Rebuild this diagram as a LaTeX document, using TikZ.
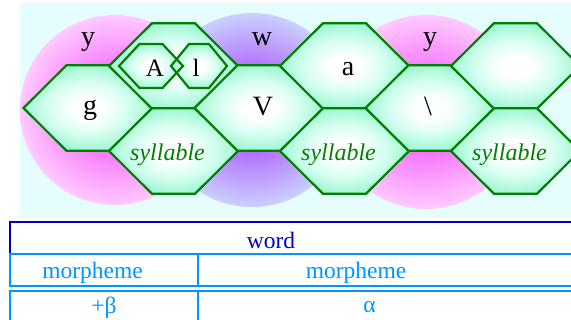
\documentclass[tikz,border=0pt]{standalone}
\usepackage{fontspec}
\setmainfont{Liberation Serif}

\definecolor{hexline}{RGB}{0,128,0}
\definecolor{hexmint}{RGB}{160,245,210}
\definecolor{hexpale}{RGB}{215,255,242}
\definecolor{bgcyan}{RGB}{230,253,253}
\definecolor{blobpink}{RGB}{245,110,250}
\definecolor{blobpinkout}{RGB}{255,202,255}
\definecolor{blobviolet}{RGB}{175,100,252}
\definecolor{blobvioletout}{RGB}{202,208,255}
\definecolor{worddark}{RGB}{0,0,200}
\definecolor{morphblue}{RGB}{0,150,255}

% white core fading out to mint at the rim
\pgfdeclareradialshading{hexglow}{\pgfpoint{0bp}{0bp}}{%
  color(0bp)=(white); color(6bp)=(white); color(15bp)=(hexpale);
  color(25bp)=(hexmint); color(50bp)=(hexmint)}
% blobs keep their strong colour further out
\pgfdeclareradialshading{pinkglow}{\pgfpoint{0bp}{0bp}}{%
  color(0bp)=(blobpink); color(9bp)=(blobpink);
  color(25bp)=(blobpinkout); color(50bp)=(blobpinkout)}
\pgfdeclareradialshading{violetglow}{\pgfpoint{0bp}{0bp}}{%
  color(0bp)=(blobviolet); color(9bp)=(blobviolet);
  color(25bp)=(blobvioletout); color(50bp)=(blobvioletout)}

% hexagon: style, centre x, centre y, half width, half top edge, half height
\newcommand{\hexat}[6]{%
  \path[#1] (#2-#4,#3) -- (#2-#5,#3-#6) -- (#2+#5,#3-#6) -- (#2+#4,#3)
    -- (#2+#5,#3+#6) -- (#2-#5,#3+#6) -- cycle;}

\tikzset{
  hexfill/.style={shading=hexglow},
  hexedge/.style={draw=hexline, line width=2.2pt, line join=miter},
  hexcell/.style={hexfill, hexedge},
  seg/.style={inner sep=0pt, font=\fontsize{28}{28}\selectfont},
  subseg/.style={inner sep=0pt, font=\fontsize{25}{25}\selectfont},
  syl/.style={inner sep=0pt, text=hexline, font=\fontsize{24}{24}\selectfont\itshape},
  tierdark/.style={draw=worddark, line width=2.5pt},
  tierlight/.style={draw=morphblue, line width=2.5pt},
  tiertext/.style={inner sep=0pt, font=\fontsize{23.5}{23.5}\selectfont}
}

\begin{document}
\begin{tikzpicture}[x=1pt,y=-1pt]
    \useasboundingbox (0,0) rectangle (571,320);
    \clip (0,0) rectangle (571,320);
    % backdrop and blobs
    \fill [bgcyan] (20,3) rectangle (571,218);
    \shade [shading=pinkglow] (115,110) circle (95pt);
    \shade [shading=violetglow] (252,110) circle (97pt);
    \shade [shading=pinkglow] (426,112) circle (97pt);
    \node [seg] (glideA) at (88,42) {y};
    \node [seg] (glideW) at (262,39) {w};
    \node [seg] (glideB) at (430,42) {y};
    % hexagon cells
    \hexat{hexcell}{88}{108}{64.5}{21.5}{42.75}
    \hexat{hexcell}{173.5}{66}{64.5}{21.5}{42.75}
    \hexat{hexcell}{173.5}{151}{64.5}{21.5}{42.75}
    \hexat{hexcell}{259}{108}{64.5}{21.5}{42.75}
    \hexat{hexcell}{344.5}{66}{64.5}{21.5}{42.75}
    \hexat{hexcell}{344.5}{151}{64.5}{21.5}{42.75}
    \hexat{hexcell}{430}{108}{64.5}{21.5}{42.75}
    \hexat{hexcell}{515.5}{66}{64.5}{21.5}{42.75}
    \hexat{hexcell}{515.5}{151}{64.5}{21.5}{42.75}
    % small cells inside the upper one
    \hexat{hexfill}{151}{66}{32}{11.5}{22}
    \hexat{hexfill}{199}{66}{28}{10}{22}
    \hexat{hexedge}{151}{66}{32}{11.5}{22}
    \hexat{hexedge}{199}{66}{28}{10}{22}
    \node [subseg] (segA) at (155,68) {A};
    \node [subseg] (segL) at (196,68) {l};
    \node [seg] (segG) at (90,110) {g};
    \node [seg] (segV) at (263,107) {V};
    \node [seg] (segAa) at (348,69) {a};
    \node [seg] (segBs) at (428,106) {\textbackslash};
    \node [syl] (sylA) at (167.5,155) {syllable};
    \node [syl] (sylB) at (338.5,155) {syllable};
    \node [syl] (sylC) at (509.5,155) {syllable};
    % tiers below
    \draw [tierdark] (10,222) rectangle (620,254);
    \draw [tierlight] (10,254) rectangle (620,286);
    \draw [tierlight] (198,254) -- (198,286);
    \draw [tierlight] (10,291) rectangle (620,340);
    \draw [tierlight] (198,291) -- (198,340);
    \node [tiertext, text=worddark] (word) at (271,240) {word};
    \node [tiertext, text=morphblue] (morphA) at (92.5,273) {morpheme};
    \node [tiertext, text=morphblue] (morphB) at (356,273) {morpheme};
    \node [tiertext, text=morphblue] (affix) at (104,308) {+β};
    \node [tiertext, text=morphblue] (root) at (369.5,307.5) {α};
\end{tikzpicture}
\end{document}
